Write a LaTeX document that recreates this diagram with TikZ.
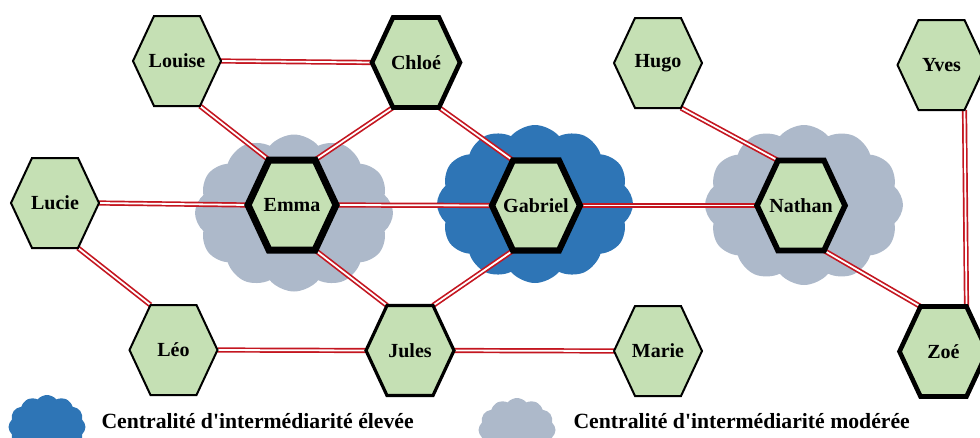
\documentclass[tikz,border=0pt]{standalone}
\usepackage{fontspec}
\setmainfont{Liberation Serif}
\usetikzlibrary{shapes.symbols}
\definecolor{leaf}{RGB}{197,224,180}
\definecolor{skyblue}{RGB}{46,117,182}
\definecolor{slate}{RGB}{173,185,202}
\definecolor{tiered}{RGB}{196,22,32}
\pgfdeclarelayer{cloudlayer}
\pgfdeclarelayer{edgelayer}
\pgfdeclarelayer{hexlayer}
\pgfsetlayers{cloudlayer,edgelayer,hexlayer,main}
\begin{document}
\begin{tikzpicture}
					[x=1pt,y=-1pt,
					pers/.style={rectangle,minimum width=88pt,minimum height=90pt,inner sep=0pt,outer sep=0pt,font=\fontsize{20}{24}\selectfont\bfseries},
					puff/.style={cloud,cloud puffs=12,cloud puff arc=100,cloud ignores aspect,inner sep=0pt,draw=none},
					tie/.style={draw=tiered,line width=1.7pt,double=white,double distance=1.8pt},
					key/.style={anchor=base west,font=\fontsize{21.7}{24}\selectfont\bfseries}]
					\useasboundingbox (0,0) rectangle (980,437);
					\begin{pgfonlayer}{cloudlayer}
					\node[puff,fill=slate,minimum width=198pt,minimum height=157pt] (emmacloud) at (294,213) {};
					\node[puff,fill=skyblue,minimum width=196pt,minimum height=158pt] (gabrielcloud) at (535,204) {};
					\node[puff,fill=slate,minimum width=198pt,minimum height=160pt] (nathancloud) at (804,205) {};
					\node[puff,fill=skyblue,minimum width=77pt,minimum height=64pt] (highkey) at (47,427) {};
					\node[puff,fill=slate,minimum width=77pt,minimum height=64pt] (modkey) at (517,430) {};
					\end{pgfonlayer}
					\node[pers] (louise) at (177,61) {Louise};
					\node[pers] (chloe) at (416,62.5) {Chloé};
					\node[pers] (hugo) at (658,63) {Hugo};
					\node[pers] (yves) at (941.5,65) {Yves};
					\node[pers] (lucie) at (55,203) {Lucie};
					\node[pers] (emma) at (292,205) {Emma};
					\node[pers] (gabriel) at (536,205.5) {Gabriel};
					\node[pers] (nathan) at (801,205.5) {Nathan};
					\node[pers] (leo) at (173.5,350) {Léo};
					\node[pers] (jules) at (410,350.5) {Jules};
					\node[pers] (marie) at (658,351) {Marie};
					\node[pers] (zoe) at (943.5,351.5) {Zoé};
					\begin{pgfonlayer}{hexlayer}
					\foreach \who/\lw in {louise/2,chloe/4.6,hugo/2,yves/2,lucie/2,emma/7,gabriel/6.2,nathan/5.6,leo/2,jules/3.2,marie/2,zoe/4.6}
						\draw[line width=\lw pt,fill=leaf,line join=miter] (\who.west) -- ([xshift=21pt]\who.north west) -- ([xshift=-21pt]\who.north east) -- (\who.east) -- ([xshift=-21pt]\who.south east) -- ([xshift=21pt]\who.south west) -- cycle;
					\end{pgfonlayer}
					\begin{pgfonlayer}{edgelayer}
					\path (louise.east) edge[tie] (chloe.west);
					\path ([xshift=-21pt]louise.south east) edge[tie] ([xshift=21pt]emma.north west);
					\path ([xshift=21pt]chloe.south west) edge[tie] ([xshift=-21pt]emma.north east);
					\path ([xshift=-21pt]chloe.south east) edge[tie] ([xshift=21pt]gabriel.north west);
					\path (lucie.east) edge[tie] (emma.west);
					\path (emma.east) edge[tie] (gabriel.west);
					\path (gabriel.east) edge[tie] (nathan.west);
					\path ([xshift=-21pt]hugo.south east) edge[tie] ([xshift=21pt]nathan.north west);
					\path ([xshift=-21pt]emma.south east) edge[tie] ([xshift=21pt]jules.north west);
					\path ([xshift=21pt]gabriel.south west) edge[tie] ([xshift=-21pt]jules.north east);
					\path ([xshift=-21pt]lucie.south east) edge[tie] ([xshift=21pt]leo.north west);
					\path (leo.east) edge[tie] (jules.west);
					\path (jules.east) edge[tie] (marie.west);
					\path ([xshift=-21pt]nathan.south east) edge[tie] ([xshift=21pt]zoe.north west);
					\path ([xshift=-21pt]yves.south east) edge[tie] ([xshift=-21pt]zoe.north east);
					\end{pgfonlayer}
					\node[key] (hightext) at (98,428) {Centralité d\textquotesingle intermédiarité élevée};
					\node[key] (modtext) at (570,428) {Centralité d\textquotesingle intermédiarité modérée};
				\end{tikzpicture}
\end{document}
